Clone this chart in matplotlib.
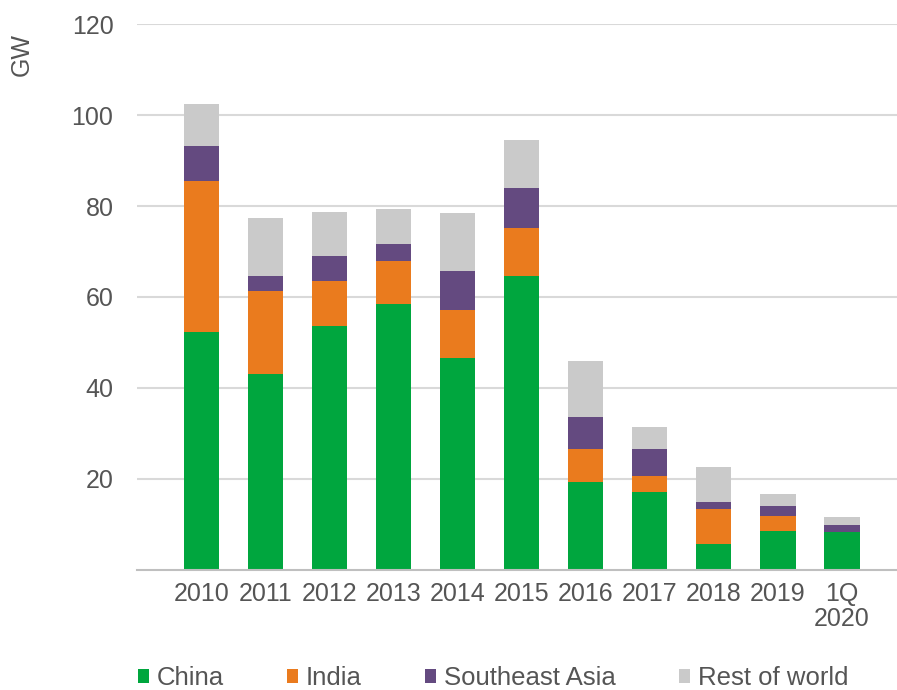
import matplotlib.pyplot as plt
from matplotlib.patches import Patch
import numpy as np

plt.rcParams['font.family'] = ['Liberation Sans', 'DejaVu Sans']

years = ['2010', '2011', '2012', '2013', '2014', '2015', '2016', '2017', '2018', '2019', '1Q\n2020']
china = [52.2, 43.1, 53.7, 58.5, 46.5, 64.6, 19.3, 17.0, 5.7, 8.4, 8.2]
india = [33.3, 18.2, 9.9, 9.4, 10.6, 10.6, 7.3, 3.6, 7.6, 3.4, 0.0]
se_asia = [7.8, 3.3, 5.5, 3.7, 8.7, 8.8, 6.9, 6.0, 1.5, 2.1, 1.5]
rest = [9.2, 12.7, 9.6, 7.7, 12.7, 10.5, 12.3, 4.8, 7.8, 2.7, 1.8]

series = [('China', china, '#00A63E'),
          ('India', india, '#EA7B1E'),
          ('Southeast Asia', se_asia, '#644A80'),
          ('Rest of world', rest, '#CACACA')]

txt = '#555555'
fs = 18

fig = plt.figure(figsize=(8.97, 6.9), dpi=100)
ax = fig.add_axes([137 / 897, 1 - 569.5 / 690, 760 / 897, 545.2 / 690])

x = np.arange(len(years))
bottom = np.zeros(len(years))
for name, vals, col in series:
    ax.bar(x, vals, 0.55, bottom=bottom, color=col, linewidth=0, zorder=3)
    bottom += np.array(vals)

ax.set_xlim(-1.01, 10.86)
ax.set_ylim(0, 120)
ax.set_yticks(range(20, 121, 20))
ax.grid(axis='y', color='#D9D9D9', linewidth=1.5, zorder=0)
ax.set_xticks(x)
ax.set_xticklabels(years)
ax.tick_params(axis='x', length=0, pad=9, labelsize=fs, labelcolor=txt)
ax.tick_params(axis='y', length=0, pad=17, labelsize=fs, labelcolor=txt)
for lbl in ax.get_xticklabels():
    lbl.set_linespacing(1.05)

for s in ['top', 'right', 'left']:
    ax.spines[s].set_visible(False)
ax.spines['bottom'].set_color('#BFBFBF')
ax.spines['bottom'].set_linewidth(1.5)
ax.spines['bottom'].set_zorder(4)

fig.text(22 / 897, 1 - 55 / 690, 'GW', rotation=90, ha='center', va='center',
         fontsize=fs, color=txt)

handles = [Patch(facecolor=c, edgecolor='none', label=n) for n, v, c in series]
fig.legend(handles=handles, loc='center', bbox_to_anchor=(493 / 897, 1 - 678 / 690),
           ncol=4, frameon=False, fontsize=18.5, labelcolor=txt,
           handlelength=0.43, handleheight=0.43, handletextpad=0.31,
           columnspacing=2.45, borderpad=0)

fig.savefig('out.png', dpi=100)
